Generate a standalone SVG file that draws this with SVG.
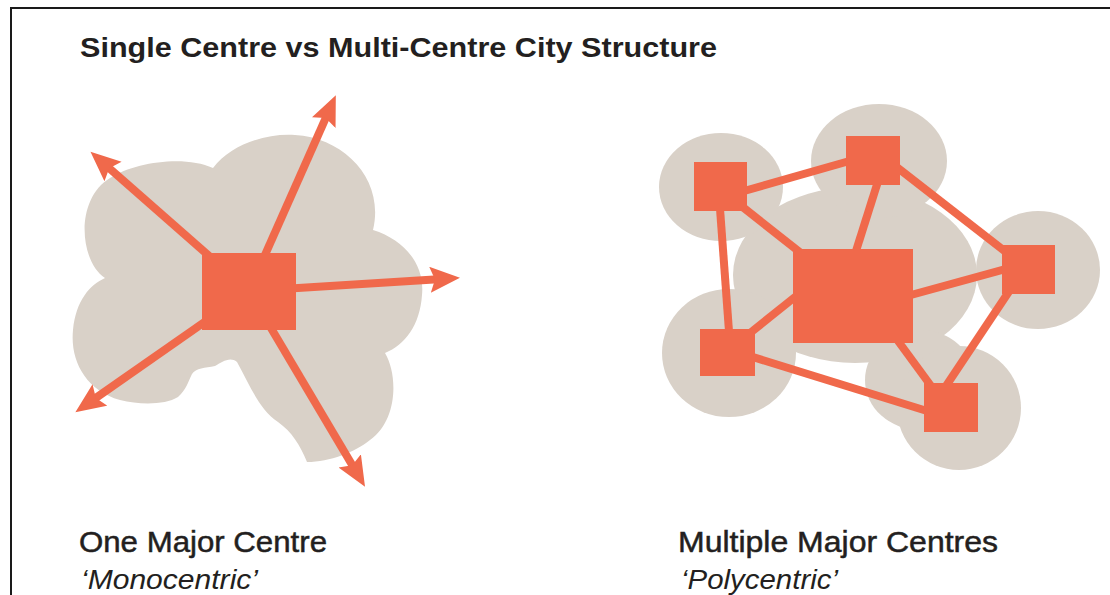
<svg xmlns="http://www.w3.org/2000/svg" width="1110" height="595" viewBox="0 0 1110 595">
  <style>
    .txt { font-family: "Liberation Sans", Arial, sans-serif; fill: #231f20; }
    .title { font-size: 28px; font-weight: bold; }
    .label { font-size: 30px; stroke: #231f20; stroke-width: 0.5; }
    .sub { font-size: 28px; font-style: italic; }
    .land { fill: #d9d1c8; }
    .centre { fill: #f0694b; }
    .arrow { stroke: #f0694b; stroke-width: 8; fill: none; marker-end: url(#head); }
    .link { stroke: #f0694b; stroke-width: 8; fill: none; }
  </style>
  <defs>
    <marker id="head" markerUnits="userSpaceOnUse" markerWidth="31" markerHeight="27" refX="8" refY="13" orient="auto" viewBox="0 0 31 27">
      <path d="M0,0 L30,13 L0,26 L5,13 z" fill="#f0694b"/>
    </marker>
  </defs>
  <rect width="1110" height="595" fill="#ffffff"/>
  <path d="M11,595 L11,8 L1110,8" fill="none" stroke="#1a1a1a" stroke-width="2"/>
  <text class="txt title" x="80" y="57" textLength="637" lengthAdjust="spacingAndGlyphs">Single Centre vs Multi-Centre City Structure</text>

  <g id="monocentric">
    <path class="land" d="M105,278 C80,262 74,200 110,178 C135,162 185,155 213,168 C230,145 265,133 295,135 C345,138 385,180 373,230 C405,240 425,265 422,295 C420,325 405,345 385,353 C398,375 398,420 370,440 C355,452 330,462 307,462 C300,445 292,432 278,422 C258,408 250,385 237,362 C230,356 222,362 215,366 C205,368 196,368 192,374 C188,382 186,390 178,397 C165,405 140,405 120,400 C85,390 70,360 73,330 C76,300 90,285 105,278 Z"/>
    <g id="mono-arrows">
      <line class="arrow" x1="249" y1="291" x2="326.9" y2="115.3"/>
      <line class="arrow" x1="249" y1="291" x2="107.0" y2="166.2"/>
      <line class="arrow" x1="249" y1="291" x2="438.0" y2="279.2"/>
      <line class="arrow" x1="249" y1="291" x2="93.4" y2="399.6"/>
      <line class="arrow" x1="249" y1="291" x2="353.8" y2="467.8"/>
    </g>
    <rect id="mono-centre" class="centre" x="202" y="253" width="94" height="77"/>
  </g>

  <g id="polycentric">
    <g id="poly-land">
      <ellipse class="land" cx="855" cy="275" rx="122" ry="88"/>
      <ellipse class="land" cx="920" cy="380" rx="55" ry="50"/>
      <ellipse class="land" cx="721" cy="187" rx="62" ry="54"/>
      <ellipse class="land" cx="879" cy="161" rx="68" ry="57"/>
      <ellipse class="land" cx="1038" cy="270" rx="62" ry="59"/>
      <ellipse class="land" cx="729" cy="353" rx="67" ry="64"/>
      <ellipse class="land" cx="959" cy="408" rx="62" ry="62"/>
    </g>
    <g id="connectors">
      <line class="link" x1="730" y1="195" x2="860" y2="158"/>
      <line class="link" x1="730" y1="197" x2="830" y2="276"/>
      <line class="link" x1="719" y1="195" x2="730" y2="345"/>
      <line class="link" x1="880" y1="175" x2="850" y2="270"/>
      <line class="link" x1="885" y1="158" x2="1020" y2="263"/>
      <line class="link" x1="900" y1="298" x2="1020" y2="265"/>
      <line class="link" x1="800" y1="293" x2="740" y2="341"/>
      <line class="link" x1="740" y1="353" x2="940" y2="415"/>
      <line class="link" x1="890" y1="330" x2="945" y2="405"/>
      <line class="link" x1="1020" y1="275" x2="940" y2="395"/>
    </g>
    <rect id="centre-main" class="centre" x="793" y="249" width="120" height="94"/>
    <rect id="centre-tl" class="centre" x="694" y="162" width="53" height="49"/>
    <rect id="centre-top" class="centre" x="846" y="136" width="54" height="49"/>
    <rect id="centre-right" class="centre" x="1002" y="245" width="53" height="49"/>
    <rect id="centre-bl" class="centre" x="700" y="329" width="55" height="47"/>
    <rect id="centre-br" class="centre" x="924" y="383" width="54" height="49"/>
  </g>

  <text class="txt label" x="79" y="552" textLength="248" lengthAdjust="spacingAndGlyphs">One Major Centre</text>
  <text class="txt sub" x="81" y="589" textLength="177" lengthAdjust="spacingAndGlyphs">‘Monocentric’</text>
  <text class="txt label" x="678" y="552" textLength="320" lengthAdjust="spacingAndGlyphs">Multiple Major Centres</text>
  <text class="txt sub" x="681" y="589" textLength="157" lengthAdjust="spacingAndGlyphs">‘Polycentric’</text>
</svg>
